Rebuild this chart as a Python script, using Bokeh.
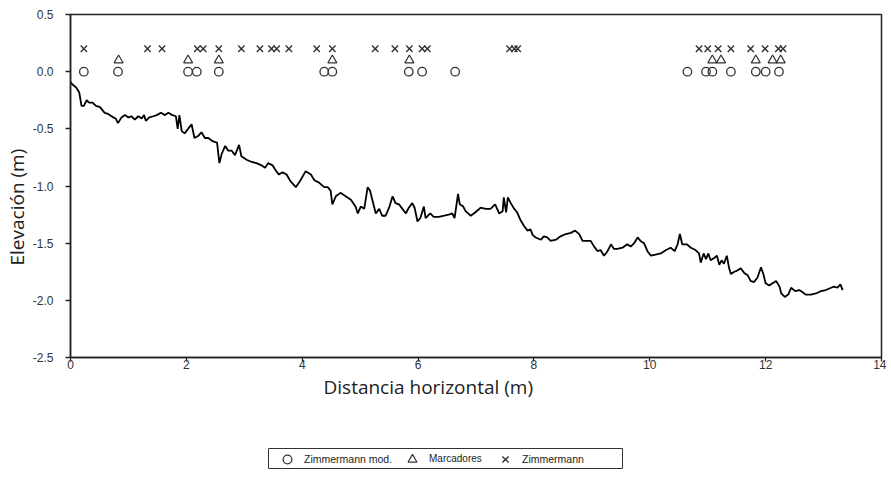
from bokeh.plotting import figure
from bokeh.models import Legend, LegendItem, FixedTicker, PrintfTickFormatter, Range1d, Spacer, Title
from bokeh.layouts import column, row
from bokeh.embed import file_html
from bokeh.resources import INLINE

# Profile (Distancia horizontal, Elevación)
x_prof = [0.00, 0.03, 0.10, 0.15, 0.19, 0.23, 0.28, 0.32, 0.38, 0.44, 0.51, 0.59, 0.65, 0.74, 0.78,
          0.82, 0.88, 0.94, 1.00, 1.05, 1.11, 1.17, 1.23, 1.27, 1.30, 1.36, 1.43, 1.49, 1.56, 1.63,
          1.69, 1.76, 1.82, 1.85, 1.88, 1.92, 1.97, 2.03, 2.09, 2.14, 2.21, 2.26, 2.32, 2.38, 2.46,
          2.53, 2.57, 2.61, 2.67, 2.72, 2.78, 2.84, 2.91, 2.95, 3.04, 3.13, 3.21, 3.30, 3.36, 3.41,
          3.49, 3.55, 3.60, 3.66, 3.73, 3.80, 3.89, 3.97, 4.06, 4.15, 4.21, 4.29, 4.38, 4.44, 4.49,
          4.52, 4.58, 4.66, 4.75, 4.84, 4.92, 4.96, 5.01, 5.07, 5.13, 5.17, 5.21, 5.27, 5.33, 5.38,
          5.44, 5.50, 5.56, 5.61, 5.67, 5.73, 5.79, 5.84, 5.90, 5.94, 5.99, 6.04, 6.10, 6.13, 6.21,
          6.27, 6.36, 6.45, 6.53, 6.59, 6.63, 6.69, 6.72, 6.78, 6.82, 6.91, 6.99, 7.08, 7.17, 7.25,
          7.33, 7.40, 7.46, 7.48, 7.52, 7.55, 7.60, 7.66, 7.71, 7.77, 7.83, 7.89, 7.94, 7.98, 8.03,
          8.12, 8.17, 8.23, 8.29, 8.38, 8.46, 8.55, 8.64, 8.71, 8.78, 8.84, 8.92, 8.98, 9.04, 9.10,
          9.15, 9.21, 9.27, 9.33, 9.38, 9.44, 9.53, 9.61, 9.67, 9.73, 9.79, 9.84, 9.90, 9.96, 10.02,
          10.10, 10.19, 10.28, 10.36, 10.43, 10.48, 10.52, 10.56, 10.64, 10.71, 10.79, 10.85, 10.88,
          10.93, 10.97, 11.01, 11.05, 11.11, 11.16, 11.20, 11.24, 11.28, 11.33, 11.37, 11.40, 11.46,
          11.51, 11.57, 11.63, 11.69, 11.74, 11.80, 11.86, 11.92, 11.96, 12.00, 12.06, 12.12, 12.18,
          12.24, 12.27, 12.33, 12.39, 12.44, 12.51, 12.58, 12.64, 12.69, 12.78, 12.87, 12.95, 13.04,
          13.13, 13.18, 13.24, 13.29, 13.33]
y_prof = [-0.09, -0.11, -0.14, -0.18, -0.30, -0.30, -0.25, -0.27, -0.27, -0.30, -0.31, -0.36, -0.37, -0.40, -0.41,
          -0.45, -0.40, -0.38, -0.40, -0.39, -0.42, -0.39, -0.41, -0.38, -0.43, -0.40, -0.39, -0.38, -0.36, -0.38,
          -0.36, -0.38, -0.39, -0.50, -0.38, -0.52, -0.54, -0.50, -0.46, -0.58, -0.56, -0.53, -0.58, -0.58, -0.61,
          -0.62, -0.80, -0.72, -0.65, -0.69, -0.69, -0.73, -0.64, -0.74, -0.77, -0.79, -0.80, -0.82, -0.84, -0.80,
          -0.82, -0.87, -0.90, -0.88, -0.90, -0.96, -1.01, -0.95, -0.87, -0.90, -0.95, -0.97, -1.01, -1.01, -1.04,
          -1.16, -1.09, -1.06, -1.09, -1.12, -1.18, -1.24, -1.18, -1.20, -1.01, -1.04, -1.12, -1.24, -1.20, -1.26,
          -1.26, -1.19, -1.09, -1.15, -1.16, -1.20, -1.24, -1.19, -1.15, -1.19, -1.31, -1.28, -1.18, -1.28, -1.24,
          -1.27, -1.27, -1.26, -1.25, -1.24, -1.28, -1.07, -1.16, -1.18, -1.22, -1.26, -1.23, -1.19, -1.20, -1.20,
          -1.16, -1.24, -1.22, -1.10, -1.23, -1.10, -1.15, -1.20, -1.23, -1.30, -1.35, -1.39, -1.38, -1.43, -1.45,
          -1.47, -1.44, -1.45, -1.48, -1.47, -1.44, -1.42, -1.41, -1.39, -1.42, -1.48, -1.48, -1.48, -1.53, -1.57,
          -1.56, -1.61, -1.57, -1.51, -1.55, -1.55, -1.54, -1.51, -1.53, -1.50, -1.45, -1.48, -1.50, -1.57, -1.61,
          -1.60, -1.59, -1.56, -1.54, -1.57, -1.51, -1.42, -1.51, -1.51, -1.54, -1.56, -1.59, -1.67,
          -1.59, -1.64, -1.59, -1.65, -1.63, -1.61, -1.69, -1.65, -1.68, -1.61, -1.72, -1.77, -1.75,
          -1.74, -1.72, -1.76, -1.78, -1.83, -1.84, -1.80, -1.71, -1.77, -1.85, -1.87, -1.85, -1.83,
          -1.88, -1.94, -1.97, -1.95, -1.89, -1.92, -1.91, -1.93, -1.95, -1.95, -1.94, -1.92, -1.91,
          -1.89, -1.88, -1.89, -1.86, -1.91]

# Marker positions
x_zmod = [0.23, 0.82, 2.03, 2.18, 2.56, 4.38, 4.52, 5.84, 6.07, 6.64,
          10.65, 10.97, 11.08, 11.40, 11.83, 12.00, 12.23]
y_zmod = [0.0] * len(x_zmod)
x_marc = [0.83, 2.03, 2.56, 4.52, 5.85, 11.08, 11.23, 11.83, 12.12, 12.26]
y_marc = [0.1] * len(x_marc)
x_zimm = [0.23, 1.33, 1.58, 2.19, 2.29, 2.56, 2.95, 3.27, 3.47, 3.56, 3.77, 4.25, 4.52,
          5.26, 5.60, 5.85, 6.07, 6.16, 7.58, 7.66, 7.72,
          10.85, 11.00, 11.18, 11.40, 11.74, 11.99, 12.22, 12.30]
y_zimm = [0.2] * len(x_zimm)

x_ticks = [0, 2, 4, 6, 8, 10, 12, 14]
y_ticks = [0.5, 0.0, -0.5, -1.0, -1.5, -2.0, -2.5]
series_labels = ["Zimmermann mod.", "Marcadores", "Zimmermann"]

mk = "#333333"
styles = [dict(marker="circle", size=8.5, fill_color=None, line_color=mk, line_width=1.3),
          dict(marker="triangle", size=9, fill_color=None, line_color=mk, line_width=1.2),
          dict(marker="x", size=9, line_color=mk, line_width=1.4)]

p = figure(width=886, height=448, output_backend="svg", toolbar_location=None,
           x_range=Range1d(0, 14), y_range=Range1d(-2.5, 0.5),
           min_border_left=70, min_border_top=14, min_border_right=5, min_border_bottom=91)
p.background_fill_color = "white"
p.border_fill_color = "white"
p.outline_line_color = "#222222"
p.outline_line_width = 1.5
p.grid.visible = False

p.line(x_prof, y_prof, line_color="black", line_width=1.8)
p.scatter(x_zmod, y_zmod, **styles[0])
p.scatter(x_marc, y_marc, **styles[1])
p.scatter(x_zimm, y_zimm, **styles[2])

for ax in (p.xaxis[0], p.yaxis[0]):
    ax.axis_line_color = "#222222"
    ax.axis_line_width = 1.5
    ax.major_tick_line_color = "#222222"
    ax.major_tick_line_width = 1.3
    ax.major_tick_in = 0
    ax.minor_tick_line_color = None
    ax.major_label_text_font = "Liberation Sans"
    ax.major_label_text_font_size = "12px"
    ax.major_label_text_color = "#333333"

p.xaxis.ticker = FixedTicker(ticks=x_ticks)
p.yaxis.ticker = FixedTicker(ticks=y_ticks)
p.yaxis.formatter = PrintfTickFormatter(format="%.1f")
p.xaxis.major_tick_out = 4
p.yaxis.major_tick_out = 5
p.xaxis.major_label_standoff = -2
p.yaxis.major_label_standoff = 12

# Axis titles, placed slightly off-centre as in the original
xt = Title(text="Distancia horizontal (m)", align="left", offset=253, standoff=0,
           text_font="Open Sans", text_font_size="19px", text_font_style="normal",
           text_color="#222222")
p.add_layout(xt, "below")
yt = Title(text="Elevación (m)", align="left", offset=92, standoff=0,
           text_font="Open Sans", text_font_size="19px", text_font_style="normal",
           text_color="#222222")
p.add_layout(yt, "left")

# Legend box as a small separate figure
lg = figure(width=355, height=21, output_backend="svg", toolbar_location=None,
            x_axis_type=None, y_axis_type=None, x_range=Range1d(0, 1), y_range=Range1d(0, 1),
            min_border=0, min_border_left=0, min_border_right=0, min_border_top=0, min_border_bottom=0)
lg.grid.visible = False
lg.outline_line_color = "#333333"
lg.outline_line_width = 1
lg.background_fill_color = "white"

legend_x = [8, 133, 226]
legend_fs = ["10.5px", "10px", "10.5px"]
for lab, st, lx, fs in zip(series_labels, styles, legend_x, legend_fs):
    r = lg.scatter([-5], [-5], **st)
    leg = Legend(items=[LegendItem(label=lab, renderers=[r])], location=(lx, -0.5),
                 orientation="horizontal")
    leg.border_line_color = None
    leg.background_fill_alpha = 0
    leg.label_text_font = "Liberation Sans"
    leg.label_text_font_size = fs
    leg.label_text_color = "#222222"
    leg.glyph_width = 22
    leg.glyph_height = 22
    leg.label_height = 22
    leg.label_standoff = 6
    leg.padding = 0
    leg.margin = 0
    leg.spacing = 0
    lg.add_layout(leg, "center")

layout = column(p, row(Spacer(width=268, height=21), lg))
open("out.html", "w").write(file_html(layout, INLINE))
